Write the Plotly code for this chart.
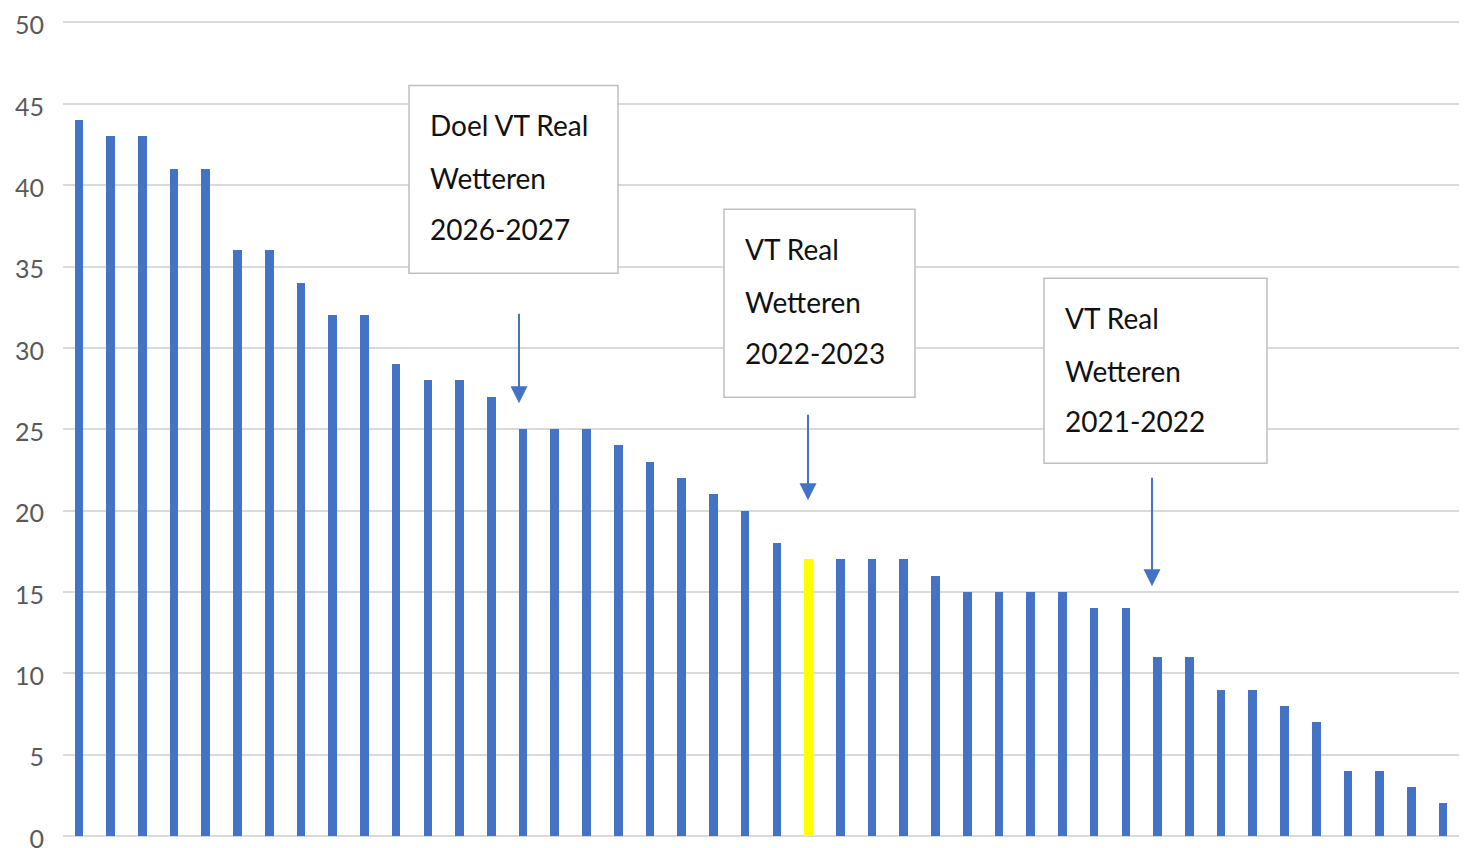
import plotly.graph_objects as go

values = [44, 43, 43, 41, 41, 36, 36, 34, 32, 32, 29, 28, 28, 27, 25, 25, 25, 24, 23, 22,
          21, 20, 18, 17, 17, 17, 17, 16, 15, 15, 15, 15, 14, 14, 11, 11, 9, 9, 8, 7,
          4, 4, 3, 2]
categories = list(range(len(values)))
highlight_index = 23
blue = "#4472C4"
yellow = "#FFFF00"
colors = [yellow if i == highlight_index else blue for i in categories]

tick_vals = [0, 5, 10, 15, 20, 25, 30, 35, 40, 45, 50]

box_texts = [
    ["Doel VT Real", "Wetteren", "2026-2027"],
    ["VT Real", "Wetteren", "2022-2023"],
    ["VT Real", "Wetteren", "2021-2022"],
]

FONT = "Lato, sans-serif"

fig = go.Figure(go.Bar(x=categories, y=values, marker=dict(color=colors, line=dict(width=0)),
                       width=0.27, hoverinfo="skip"))

OFF = 8  # page body margin
W, H = 1470, 848
YMAX = 50.15
# plot area in window pixels: left 63, right 1459, y=0 at 836, y=50 at 22
PL, PR, PB = 63, 1459, 836
UNIT = (836 - 22) / 50.0
PT = PB - YMAX * UNIT
ml, mt = PL - OFF, PT - OFF
mr = W - (PR - OFF)
mb = H - (PB - OFF)
n = len(values)

def px_x(px):
    return (px - PL) / (PR - PL) * n - 0.5

def px_y(py):
    return (PB - py) / UNIT

boxes = [
    (409, 85, 618, 273, 428, [125, 178, 229]),
    (724, 209, 915, 397, 743, [249, 302, 353]),
    (1044, 278, 1267, 463, 1063, [318, 371, 421]),
]
shapes = []
annotations = []
for (l, t, r, b, tx, lines), texts in zip(boxes, box_texts):
    shapes.append(dict(type="rect", xref="x", yref="y", x0=px_x(l), x1=px_x(r),
                       y0=px_y(b), y1=px_y(t), fillcolor="white",
                       line=dict(color="#BFBFBF", width=1.5), layer="above"))
    for ly, txt in zip(lines, texts):
        annotations.append(dict(xref="x", yref="y", x=px_x(tx), y=px_y(ly), text=txt,
                                showarrow=False, xanchor="left", yanchor="middle",
                                font=dict(family=FONT, size=28, color="#111111")))

arrows = [(519, 312, 403), (808, 413, 500), (1152, 476, 586)]
for ax_px, tail, tip in arrows:
    annotations.append(dict(xref="x", yref="y", axref="x", ayref="y",
                            x=px_x(ax_px), y=px_y(tip), ax=px_x(ax_px), ay=px_y(tail),
                            text="", showarrow=True, arrowhead=2, arrowsize=1.7,
                            arrowwidth=2, arrowcolor=blue))

fig.update_layout(
    width=W, height=H,
    margin=dict(l=ml, r=mr, t=mt, b=mb, autoexpand=False),
    plot_bgcolor="white", paper_bgcolor="white",
    showlegend=False,
    shapes=shapes, annotations=annotations,
    xaxis=dict(range=[-0.5, n - 0.5], showticklabels=False, showgrid=False,
               zeroline=False, showline=False, fixedrange=True, automargin=False),
    yaxis=dict(range=[0, YMAX], tickvals=tick_vals, showgrid=True, gridcolor="#D9D9D9",
               gridwidth=2, zeroline=True, zerolinecolor="#D9D9D9", zerolinewidth=2,
               showline=False, ticks="", ticklabelstandoff=18, ticklabeloverflow="allow",
               ticklabelshift=3, automargin=False,
               tickfont=dict(family=FONT, size=25, color="#595959"), fixedrange=True),
    bargap=0,
)

fig.write_html("out.html")
